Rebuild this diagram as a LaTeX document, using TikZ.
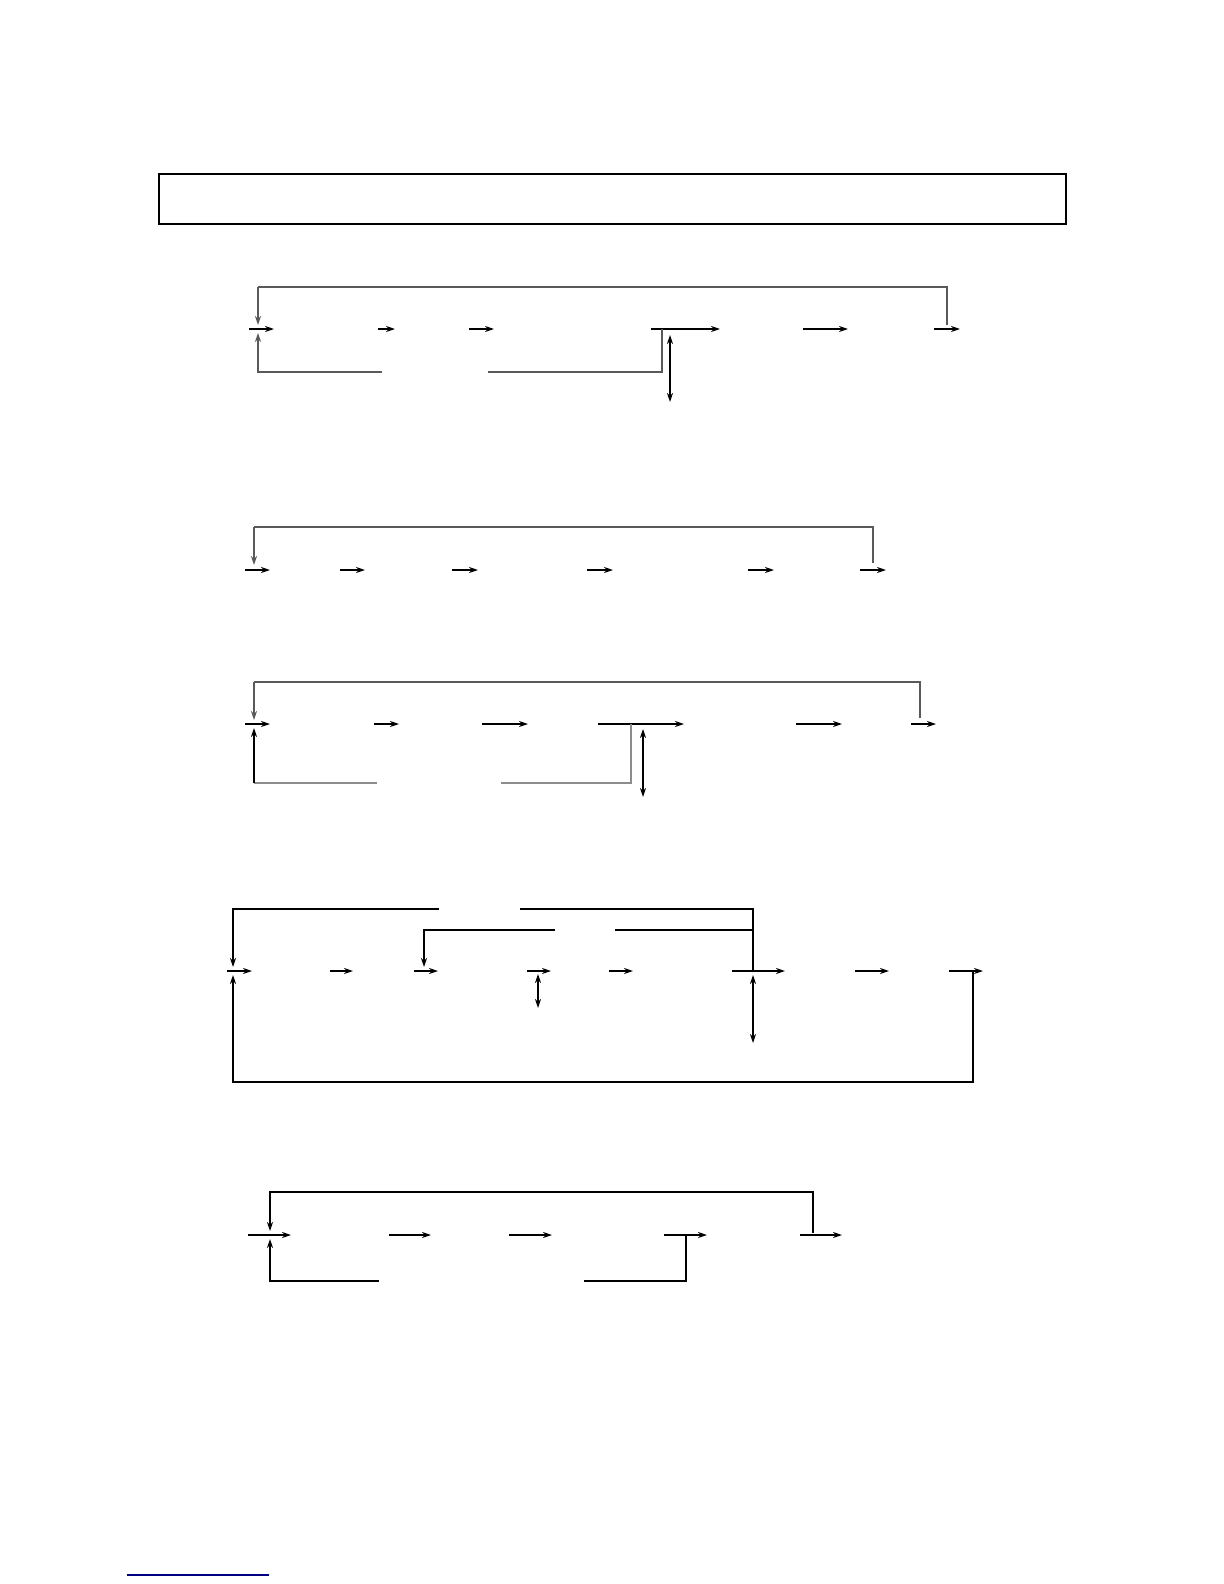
\documentclass[tikz,border=0pt]{standalone}
\usetikzlibrary{arrows.meta}

\begin{document}
\begin{tikzpicture}[x=0.5pt,y=-0.5pt,>={Stealth[length=4.5pt,width=3pt]}]
	\tikzstyle{flow} = [->,line width=0.8pt,black];
	\tikzstyle{back} = [line width=0.7pt,black!65];
	\tikzstyle{both} = [<->,line width=0.8pt,black];
	\useasboundingbox (0,0) rectangle (1224,1584);

	\node[draw,line width=0.9pt,anchor=north west,inner sep=0,minimum width=453.5pt,minimum height=25pt] (head) at (158,173) {};

	% first loop
	\foreach \i/\xa/\xb in {1/249/274,2/378/395,3/469/494,4/651/720,5/803/848,6/934/960} {
		\coordinate (a\i) at (\xa,329);
		\coordinate (a\i') at (\xb,329);
		\draw[flow] (a\i) -- (a\i');
	}
	\coordinate (a-tl) at (258,287);
	\coordinate (a-tr) at (947,287);
	\coordinate (a-tf) at (947,325);
	\coordinate (a-in) at (258,325);
	\coordinate (a-up) at (258,333);
	\coordinate (a-b1) at (662,329);
	\coordinate (a-b2) at (662,372);
	\coordinate (a-b3) at (488,372);
	\coordinate (a-b4) at (382,372);
	\coordinate (a-b5) at (258,372);
	\coordinate (a-d1) at (670,335);
	\coordinate (a-d2) at (670,402);
	\draw[back] (a-tf) -- (a-tr) -- (a-tl);
	\draw[back,->] (a-tl) -- (a-in);
	\draw[back] (a-b1) -- (a-b2) -- (a-b3);
	\draw[back,->] (a-b4) -- (a-b5) -- (a-up);
	\draw[both] (a-d1) -- (a-d2);

	% second loop
	\foreach \i/\xa/\xb in {1/245/270,2/340/365,3/452/478,4/587/613,5/748/774,6/860/886} {
		\coordinate (b\i) at (\xa,570);
		\coordinate (b\i') at (\xb,570);
		\draw[flow] (b\i) -- (b\i');
	}
	\coordinate (b-tl) at (254,527);
	\coordinate (b-tr) at (873,527);
	\coordinate (b-tf) at (873,563);
	\coordinate (b-in) at (254,565);
	\draw[back] (b-tf) -- (b-tr) -- (b-tl);
	\draw[back,->] (b-tl) -- (b-in);

	% third loop
	\foreach \i/\xa/\xb in {1/245/270,2/374/399,3/482/528,4/598/684,5/796/842,6/911/936} {
		\coordinate (c\i) at (\xa,724);
		\coordinate (c\i') at (\xb,724);
		\draw[flow] (c\i) -- (c\i');
	}
	\coordinate (c-tl) at (254,682);
	\coordinate (c-tr) at (920,682);
	\coordinate (c-tf) at (920,718);
	\coordinate (c-in) at (254,720);
	\coordinate (c-up) at (254,728);
	\coordinate (c-b1) at (631,724);
	\coordinate (c-b2) at (631,783);
	\coordinate (c-b3) at (501,783);
	\coordinate (c-b4) at (377,783);
	\coordinate (c-b5) at (254,783);
	\coordinate (c-d1) at (643,729);
	\coordinate (c-d2) at (643,797);
	\draw[back] (c-tf) -- (c-tr) -- (c-tl);
	\draw[back,->] (c-tl) -- (c-in);
	\draw[back,black!45] (c-b1) -- (c-b2) -- (c-b3);
	\draw[back,black!45] (c-b4) -- (c-b5);
	\draw[flow] (c-b5) -- (c-up);
	\draw[both] (c-d1) -- (c-d2);

	% fourth loop
	\foreach \i/\xa/\xb in {1/227/252,2/330/353,3/414/438,4/527/551,5/609/633,6/732/785,7/855/889,8/949/983} {
		\coordinate (d\i) at (\xa,971);
		\coordinate (d\i') at (\xb,971);
		\draw[flow] (d\i) -- (d\i');
	}
	\coordinate (d-o1) at (233,909);
	\coordinate (d-o2) at (439,909);
	\coordinate (d-o3) at (520,909);
	\coordinate (d-o4) at (753,909);
	\coordinate (d-i1) at (424,930);
	\coordinate (d-i2) at (555,930);
	\coordinate (d-i3) at (615,930);
	\coordinate (d-i4) at (753,930);
	\coordinate (d-j) at (753,971);
	\coordinate (d-in) at (233,967);
	\coordinate (d-in2) at (424,967);
	\coordinate (d-r1) at (973,971);
	\coordinate (d-r2) at (973,1082);
	\coordinate (d-r3) at (233,1082);
	\coordinate (d-up) at (233,975);
	\draw[flow] (d-o2) -- (d-o1) -- (d-in);
	\draw[flow] (d-i2) -- (d-i1) -- (d-in2);
	\draw[flow,-] (d-o3) -- (d-o4) -- (d-j);
	\draw[flow,-] (d-i3) -- (d-i4);
	\draw[flow] (d-r1) -- (d-r2) -- (d-r3) -- (d-up);
	\draw[both] (538,974) coordinate (d-d1) -- (538,1008) coordinate (d-d2);
	\draw[both] (753,975) coordinate (d-d3) -- (753,1043) coordinate (d-d4);

	% fifth loop
	\foreach \i/\xa/\xb in {1/248/291,2/389/431,3/509/552,4/664/707,5/800/842} {
		\coordinate (e\i) at (\xa,1235);
		\coordinate (e\i') at (\xb,1235);
		\draw[flow] (e\i) -- (e\i');
	}
	\coordinate (e-tl) at (270,1192);
	\coordinate (e-tr) at (813,1192);
	\coordinate (e-tf) at (813,1233);
	\coordinate (e-in) at (270,1231);
	\coordinate (e-up) at (270,1239);
	\coordinate (e-b1) at (686,1235);
	\coordinate (e-b2) at (686,1281);
	\coordinate (e-b3) at (584,1281);
	\coordinate (e-b4) at (379,1281);
	\coordinate (e-b5) at (270,1281);
	\draw[flow] (e-tf) -- (e-tr) -- (e-tl) -- (e-in);
	\draw[flow,-] (e-b1) -- (e-b2) -- (e-b3);
	\draw[flow] (e-b4) -- (e-b5) -- (e-up);

	\draw[line width=0.8pt,blue!50!black] (127,1575) -- (269,1575);
\end{tikzpicture}
\end{document}
